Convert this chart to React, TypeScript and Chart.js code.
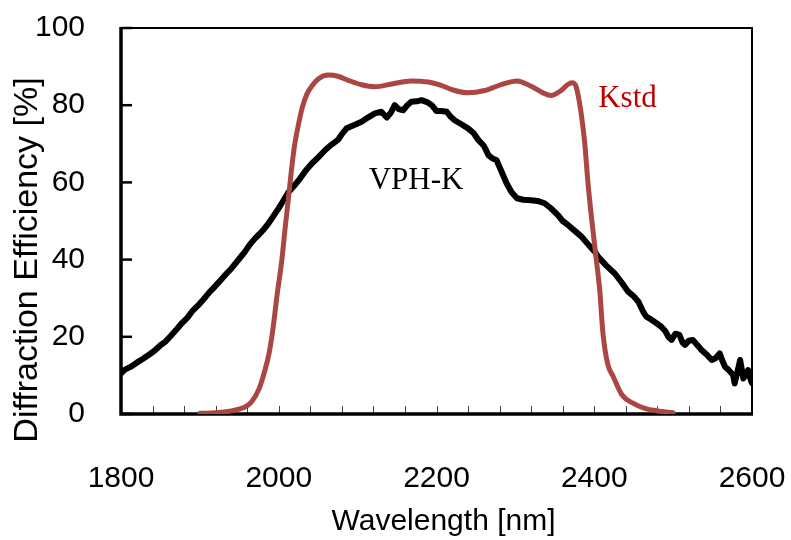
import React, { useEffect, useRef } from "react";
import { Chart, registerables } from "chart.js";

Chart.register(...registerables);

// VPH-K measured diffraction efficiency
const vphWavelength = [
  1800, 1805, 1812, 1820, 1828, 1835, 1842, 1850, 1856, 1863, 1870, 1877, 1884, 1891, 1898, 1905,
  1912, 1919, 1926, 1933, 1940, 1947, 1953, 1957, 1963, 1970, 1975, 1980, 1987, 1993, 1999, 2005,
  2012, 2019, 2027, 2034, 2042, 2050, 2059, 2067, 2075, 2080, 2086, 2095, 2105, 2113, 2122, 2130,
  2137, 2142, 2147, 2152, 2158, 2163, 2168, 2175, 2181, 2188, 2194, 2200, 2206, 2213, 2218, 2223,
  2232, 2240, 2247, 2253, 2260, 2266, 2271, 2276, 2282, 2289, 2295, 2302, 2310, 2320, 2328, 2337,
  2345, 2354, 2360, 2367, 2375, 2384, 2392, 2401, 2405, 2415, 2426, 2435, 2443, 2450, 2456, 2462,
  2466, 2472, 2479, 2485, 2490, 2494, 2498, 2503, 2508, 2512, 2515, 2520, 2525, 2530, 2536, 2542,
  2549, 2554, 2559, 2563, 2566, 2570, 2576, 2578, 2581, 2585, 2589, 2592, 2595, 2599, 2600,
];
const vphEfficiency = [
  10.5, 11.5, 12.2, 13.3, 14.3, 15.3, 16.3, 17.8, 18.7, 20.2, 21.8, 23.5, 24.9, 26.8, 28.2, 29.8,
  31.5, 33.0, 34.6, 36.2, 37.7, 39.5, 41.0, 42.0, 43.8, 45.5, 46.5, 47.6, 49.4, 51.2, 53.0, 55.0,
  57.4, 59.0, 61.0, 63.0, 64.9, 66.5, 68.4, 69.8, 71.0, 72.5, 74.0, 74.8, 75.7, 76.8, 77.9, 78.3,
  76.8, 78.0, 80.0, 79.0, 78.7, 80.0, 80.9, 81.0, 81.3, 80.8, 80.0, 78.5, 78.5, 78.3, 77.0, 76.1,
  75.0, 74.0, 72.8, 71.0, 69.5, 67.0, 66.2, 65.8, 63.0, 59.7, 57.5, 55.9, 55.5, 55.4, 55.2, 54.6,
  53.3, 51.5, 50.0, 48.9, 47.5, 45.9, 44.0, 42.0, 40.7, 38.5, 36.4, 34.0, 31.7, 30.5, 29.1, 26.5,
  25.2, 24.5, 23.5, 22.6, 21.5, 20.0, 19.2, 20.8, 20.5, 18.5, 17.9, 19.0, 19.2, 18.0, 16.6, 15.5,
  14.0, 14.5, 15.7, 13.5, 12.2, 11.5, 10.1, 7.9, 10.5, 14.0, 9.2, 10.0, 11.4, 8.4, 8.0,
];

// Kstd filter transmission
const kstdWavelength = [
  1900, 1920, 1940, 1955, 1965, 1975, 1982, 1988, 1993, 1998, 2004, 2008, 2012, 2016, 2020, 2025,
  2030, 2036, 2042, 2050, 2063, 2075, 2090, 2105, 2122, 2143, 2168, 2190, 2205, 2220, 2240, 2261,
  2283, 2302, 2320, 2335, 2345, 2358, 2366, 2372, 2377, 2381, 2384, 2388, 2392, 2397, 2402, 2407,
  2411, 2417, 2424, 2435, 2449, 2465, 2480, 2500,
];
const kstdEfficiency = [
  0.2, 0.3, 0.8, 1.6, 3.0, 6.5, 11.0, 16.0, 22.6, 31.0, 40.0, 48.0, 55.4, 63.0, 69.5, 75.0,
  79.5, 83.0, 85.0, 86.8, 87.8, 87.5, 86.3, 85.3, 84.8, 85.5, 86.3, 86.0, 85.2, 84.0, 83.2, 83.8,
  85.4, 86.3, 84.9, 83.2, 82.5, 83.8, 85.3, 85.8, 84.8, 81.0, 77.0, 70.0, 60.0, 50.0, 41.0, 32.0,
  21.0, 13.0, 9.7, 5.0, 2.8, 1.4, 0.8, 0.3,
];

const seriesNames = ["VPH-K", "Kstd"];
const xTitle = "Wavelength [nm]";
const yTitle = "Diffraction Efficiency [%]";

const SANS = "'Liberation Sans', Arial, sans-serif";
const SERIF = "'Liberation Serif', 'Times New Roman', serif";

function shiftTitle(chart: any, scale: any, dx: number, dy: number) {
  if (!scale || scale.__patched) return;
  const orig = scale.drawTitle.bind(scale);
  scale.drawTitle = () => {
    const ctx = chart.ctx;
    ctx.save();
    ctx.translate(dx, dy);
    orig();
    ctx.restore();
  };
  scale.__patched = true;
}

const framePlugin = {
  id: "framePlugin",
  beforeDraw(chart: any) {
    shiftTitle(chart, chart.scales.y, 0, 39);
    shiftTitle(chart, chart.scales.x, 7, 0);
  },
  beforeDatasetsDraw(chart: any) {
    const { ctx, chartArea, scales } = chart;
    const { left, right, top, bottom } = chartArea;
    const x = scales.x;
    const y = scales.y;
    ctx.save();
    ctx.strokeStyle = "#404040";
    ctx.lineWidth = 1;
    x.ticks.forEach((t: any) => {
      const px = Math.round(x.getPixelForValue(t.value)) + 0.5;
      ctx.beginPath();
      ctx.moveTo(px, bottom);
      ctx.lineTo(px, bottom - 8);
      ctx.stroke();
    });
    ctx.strokeStyle = "#000";
    ctx.lineWidth = 2.5;
    y.ticks.forEach((t: any) => {
      const py = y.getPixelForValue(t.value);
      ctx.beginPath();
      ctx.moveTo(left, py);
      ctx.lineTo(left + 11, py);
      ctx.stroke();
    });
    ctx.lineWidth = 2;
    ctx.strokeRect(left, top, right - left, bottom - top);
    ctx.lineWidth = 3.5;
    ctx.beginPath();
    ctx.moveTo(left, top - 1);
    ctx.lineTo(left, bottom);
    ctx.lineTo(right + 1, bottom);
    ctx.stroke();
    ctx.restore();
  },
  afterDraw(chart: any) {
    const { ctx, scales } = chart;
    const x = scales.x;
    const y = scales.y;
    ctx.save();
    ctx.font = `31px ${SERIF}`;
    ctx.textBaseline = "middle";
    ctx.fillStyle = "#000";
    ctx.textAlign = "center";
    ctx.fillText(seriesNames[0], x.getPixelForValue(2174), y.getPixelForValue(60.3));
    ctx.fillStyle = "#C00000";
    ctx.textAlign = "left";
    ctx.fillText(seriesNames[1], x.getPixelForValue(2405), y.getPixelForValue(81.6));
    ctx.restore();
  },
};

export default function App() {
  const canvasRef = useRef<HTMLCanvasElement | null>(null);

  useEffect(() => {
    document.body.style.margin = "0";
    const canvas = canvasRef.current;
    if (!canvas) return;
    const vphPoints = vphWavelength.map((w, i) => ({ x: w, y: vphEfficiency[i] }));
    const kstdPoints = kstdWavelength.map((w, i) => ({ x: w, y: kstdEfficiency[i] }));
    const chart = new Chart(canvas, {
      type: "line",
      data: {
        datasets: [
          {
            label: seriesNames[0],
            data: vphPoints,
            borderColor: "#000000",
            borderWidth: 6,
            pointRadius: 0,
            tension: 0,
            borderJoinStyle: "round",
            borderCapStyle: "round",
            order: 1,
          },
          {
            label: seriesNames[1],
            data: kstdPoints,
            borderColor: "#AA4643",
            borderWidth: 5,
            pointRadius: 0,
            cubicInterpolationMode: "monotone",
            borderJoinStyle: "round",
            borderCapStyle: "round",
            order: 0,
          },
        ],
      },
      options: {
        responsive: false,
        animation: false,
        devicePixelRatio: 1,
        layout: { padding: { left: 0, top: 28, right: 39, bottom: 0 } },
        plugins: { legend: { display: false }, tooltip: { enabled: false } },
        scales: {
          x: {
            type: "linear",
            min: 1800,
            max: 2600,
            grid: { display: false, drawTicks: false },
            border: { display: false },
            ticks: {
              stepSize: 40,
              autoSkip: false,
              maxRotation: 0,
              padding: 47,
              color: "#000",
              font: { family: SANS, size: 30 },
              callback: (v: any) => (Number(v) % 200 === 0 ? String(v) : ""),
            },
            title: {
              display: true,
              text: xTitle,
              color: "#000",
              font: { family: SANS, size: 30 },
              padding: { top: 0, bottom: 0 },
            },
            afterFit: (scale: any) => {
              scale.height = 126;
              scale.paddingLeft = 0;
              scale.paddingRight = 0;
            },
          },
          y: {
            min: 0,
            max: 100,
            grid: { display: false, drawTicks: false },
            border: { display: false },
            ticks: {
              stepSize: 20,
              padding: 36,
              color: "#000",
              font: { family: SANS, size: 30 },
            },
            title: {
              display: true,
              text: yTitle,
              color: "#000",
              font: { family: SANS, size: 34 },
              padding: { top: 7, bottom: 0 },
            },
            afterFit: (scale: any) => {
              scale.width = 121;
              scale.paddingTop = 0;
              scale.paddingBottom = 0;
            },
          },
        },
      },
      plugins: [framePlugin],
    });
    return () => chart.destroy();
  }, []);

  return (
    <div style={{ width: 791, height: 540 }}>
      <canvas ref={canvasRef} width={791} height={540} />
    </div>
  );
}
